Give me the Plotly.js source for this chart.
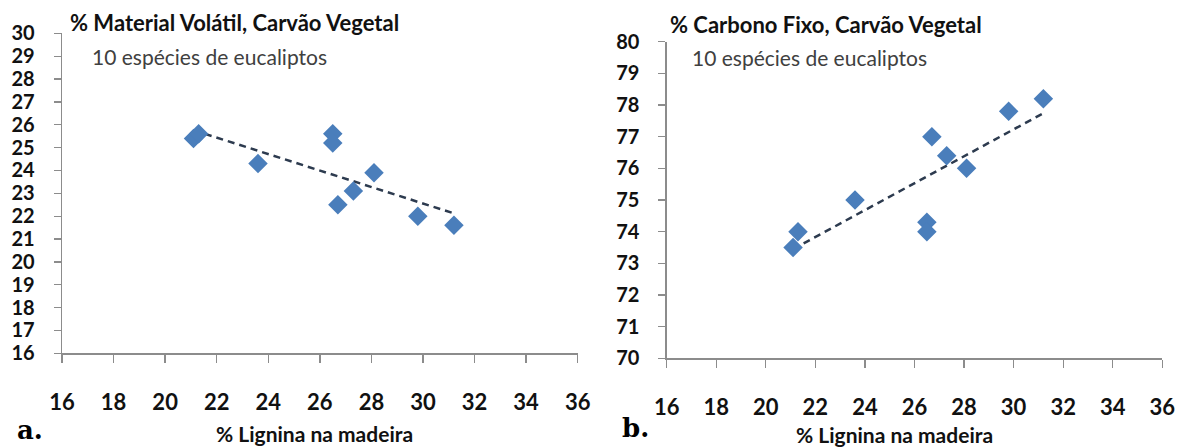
<!DOCTYPE html>
<html>
<head>
<meta charset="utf-8">
<script src="https://cdn.plot.ly/plotly-3.0.1.min.js"></script>
<style>
  html, body { margin: 0; padding: 0; background: #ffffff; }
  #chart { width: 1185px; height: 448px; }
</style>
</head>
<body>
<div id="chart"></div>
<script>
// Lignin content of the wood (%) for the 10 eucalyptus species
const lignina = [21.1, 21.3, 23.6, 26.5, 26.5, 26.7, 27.3, 28.1, 29.8, 31.2];
// Volatile matter of the charcoal (%)
const materialVolatil = [25.4, 25.6, 24.3, 25.6, 25.2, 22.5, 23.1, 23.9, 22.0, 21.6];
// Lignin values for the fixed-carbon panel
const ligninaB = [21.1, 21.3, 23.6, 26.5, 26.5, 26.7, 27.3, 28.1, 29.8, 31.2];
// Fixed carbon of the charcoal (%)
const carbonoFixo = [73.5, 74.0, 75.0, 74.3, 74.0, 77.0, 76.4, 76.0, 77.8, 78.2];

const tituloA = '% Material Volátil, Carvão Vegetal';
const tituloB = '% Carbono Fixo, Carvão Vegetal';
const subtitulo = '10 espécies de eucaliptos';
const tituloX = '% Lignina na madeira';

// Least-squares linear trendline, drawn across the span of the data
function linearTrend(xs, ys) {
  const n = xs.length;
  const mx = xs.reduce((a, b) => a + b, 0) / n;
  const my = ys.reduce((a, b) => a + b, 0) / n;
  let sxy = 0, sxx = 0;
  for (let i = 0; i < n; i++) {
    sxy += (xs[i] - mx) * (ys[i] - my);
    sxx += (xs[i] - mx) * (xs[i] - mx);
  }
  const slope = sxy / sxx;
  const x0 = Math.min(...xs), x1 = Math.max(...xs);
  return { x: [x0, x1], y: [my + slope * (x0 - mx), my + slope * (x1 - mx)] };
}

const W = 1185, H = 448;
const px = v => v / W;
const py = v => 1 - v / H;

const markerStyle = { symbol: 'diamond', size: 15, color: '#4a7ebb', line: { width: 0 } };
const trendStyle = { color: '#2d3b4f', width: 2.5, dash: '7px,5px' };

const trendA = linearTrend(lignina, materialVolatil);
const trendB = linearTrend(ligninaB, carbonoFixo);

const traces = [
  { type: 'scatter', mode: 'lines', x: trendA.x, y: trendA.y, xaxis: 'x', yaxis: 'y',
    line: trendStyle, hoverinfo: 'skip' },
  { type: 'scatter', mode: 'markers', x: lignina, y: materialVolatil, xaxis: 'x', yaxis: 'y',
    marker: markerStyle, name: tituloA },
  { type: 'scatter', mode: 'lines', x: trendB.x, y: trendB.y, xaxis: 'x2', yaxis: 'y2',
    line: trendStyle, hoverinfo: 'skip' },
  { type: 'scatter', mode: 'markers', x: ligninaB, y: carbonoFixo, xaxis: 'x2', yaxis: 'y2',
    marker: markerStyle, name: tituloB }
];

const xTickFont = { family: 'Lato, sans-serif', size: 22, color: '#111111', weight: 'bold' };
const yTickFont = { family: 'Lato, sans-serif', size: 20, color: '#111111', weight: 'bold' };

function xAxis(domain, anchor) {
  return {
    domain: domain, anchor: anchor, range: [16, 36], tick0: 16, dtick: 2,
    showgrid: false, zeroline: false, showline: true, linecolor: '#8c8c8c', linewidth: 1.3,
    ticks: 'outside', ticklen: 8, tickwidth: 1.3, tickcolor: '#8c8c8c',
    tickfont: xTickFont, ticklabelstandoff: 21, fixedrange: true
  };
}
function yAxis(domain, anchor, range) {
  return {
    domain: domain, anchor: anchor, range: range, dtick: 1,
    showgrid: false, zeroline: false, showline: true, linecolor: '#8c8c8c', linewidth: 1.3,
    ticks: 'outside', ticklen: 7, tickwidth: 1.3, tickcolor: '#8c8c8c',
    tickfont: yTickFont, ticklabelstandoff: 15, fixedrange: true
  };
}

const boldTitle = { family: 'Lato, sans-serif', size: 22, color: '#111111', weight: 'bold' };
const subFont = { family: 'Lato, sans-serif', size: 21, color: '#404040' };
const xTitleFont = { family: 'Lato, sans-serif', size: 21, color: '#111111', weight: 'bold' };
const letterFont = { family: 'DejaVu Serif, serif', size: 26, color: '#000000', weight: 'bold' };

function note(text, x, y, font, xanchor) {
  return { text: text, xref: 'paper', yref: 'paper', x: x, y: y,
           xanchor: xanchor || 'left', yanchor: 'middle', showarrow: false, font: font };
}

const layout = {
  width: W, height: H,
  margin: { l: 0, r: 0, t: 0, b: 0 },
  paper_bgcolor: '#ffffff', plot_bgcolor: '#ffffff',
  showlegend: false,
  xaxis: xAxis([px(62), px(577.7)], 'y'),
  yaxis: yAxis([py(353.3), py(33.3)], 'x', [16, 30]),
  xaxis2: xAxis([px(666.7), px(1162.3)], 'y2'),
  yaxis2: yAxis([py(358.3), py(41.7)], 'x2', [70, 80]),
  annotations: [
    note(tituloA, px(68), py(22), boldTitle),
    note(subtitulo, px(90), py(57), subFont),
    note(tituloB, px(668), py(25), boldTitle),
    note(subtitulo, px(690), py(58), subFont),
    note(tituloX, px(314), py(433), xTitleFont, 'center'),
    note(tituloX, px(894), py(434), xTitleFont, 'center'),
    note('a.', px(15), py(430), letterFont),
    note('b.', px(620), py(428), letterFont)
  ]
};

Plotly.newPlot('chart', traces, layout, { displayModeBar: false, staticPlot: true });
</script>
</body>
</html>
